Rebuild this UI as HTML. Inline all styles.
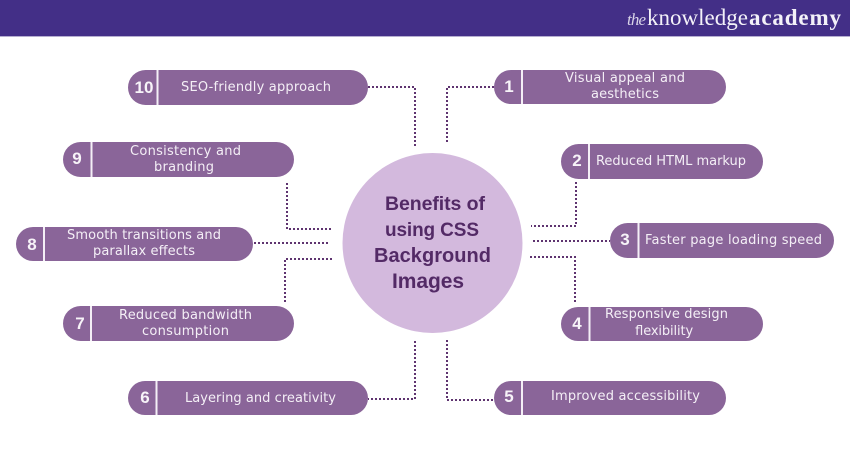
<!DOCTYPE html>
<html>
<head>
<meta charset="utf-8">
<style>
html,body{margin:0;padding:0;background:#fff;width:850px;height:450px;overflow:hidden}
svg{display:block}
.t{font:13px "DejaVu Sans",sans-serif;fill:#f4eff6}
.n{font:bold 17px "Liberation Sans",sans-serif;fill:#f7f3f8;text-anchor:middle}
.c{font-family:"Liberation Sans",sans-serif;font-weight:bold;fill:#532a66}
.p{fill:#8a6599}
.d{stroke:#f4eff6;stroke-width:2}
.l{fill:none;stroke:#5f3470;stroke-width:2;stroke-dasharray:2 2}
</style>
</head>
<body>
<svg width="850" height="450" viewBox="0 0 850 450" xmlns="http://www.w3.org/2000/svg">
<rect width="850" height="450" fill="#fff"/>
<rect width="850" height="36" fill="#432f87"/>
<rect y="36" width="850" height="1" fill="#b5aed0"/>
<text x="627" y="25" textLength="19" font-family="Liberation Serif,serif" font-style="italic" font-size="17" fill="#d9d4e8">the</text>
<text x="647" y="25" textLength="101" font-family="Liberation Serif,serif" font-size="23" fill="#f3f1f8">knowledge</text>
<text x="749" y="25" textLength="92" font-family="Liberation Serif,serif" font-weight="bold" font-size="23" fill="#f3f1f8">academy</text>

<circle cx="432.5" cy="243" r="90" fill="#d3b9dd"/>
<text class="c" font-size="19.500" x="385" y="210" textLength="100">Benefits of</text>
<text class="c" font-size="19" x="385" y="236" textLength="94">using CSS</text>
<text class="c" font-size="20" x="374" y="262" textLength="117">Background</text>
<text class="c" font-size="21" x="392" y="288" textLength="72">Images</text>

<path class="l" d="M447 142V87H494"/>
<path class="l" d="M576 182V226H531"/>
<path class="l" d="M533 241H610"/>
<path class="l" d="M530 257H575V302"/>
<path class="l" d="M447 340V400H494"/>
<path class="l" d="M415 341V399H368"/>
<path class="l" d="M332 259H285V303"/>
<path class="l" d="M254 243H330"/>
<path class="l" d="M287 183V229H332"/>
<path class="l" d="M368 87H415V146"/>

<rect class="p" x="128" y="70" width="240" height="35" rx="17.500"/><path class="d" d="M157.500 70V105"/>
<text class="n" x="144" y="93">10</text>
<text class="t" x="181" y="91" textLength="150">SEO-friendly approach</text>

<rect class="p" x="63" y="142" width="231" height="35" rx="17.500"/><path class="d" d="M91.500 142V177"/>
<text class="n" x="77" y="164">9</text>
<text class="t" x="130" y="155" textLength="111">Consistency and</text>
<text class="t" x="154" y="171" textLength="60">branding</text>

<rect class="p" x="16" y="227" width="237" height="34" rx="17"/><path class="d" d="M44 227V261"/>
<text class="n" x="32" y="250">8</text>
<text class="t" x="67" y="239" textLength="154">Smooth transitions and</text>
<text class="t" x="93" y="255" textLength="102">parallax effects</text>

<rect class="p" x="63" y="306" width="231" height="35" rx="17.500"/><path class="d" d="M91 306V341"/>
<text class="n" x="80" y="329">7</text>
<text class="t" x="119" y="319" textLength="133">Reduced bandwidth</text>
<text class="t" x="142" y="335" textLength="87">consumption</text>

<rect class="p" x="128" y="381" width="240" height="34" rx="17"/><path class="d" d="M156.500 381V415"/>
<text class="n" x="145" y="403">6</text>
<text class="t" x="185" y="402" textLength="151">Layering and creativity</text>

<rect class="p" x="494" y="70" width="232" height="34" rx="17"/><path class="d" d="M522 70V104"/>
<text class="n" x="509" y="92">1</text>
<text class="t" x="565" y="82" textLength="120">Visual appeal and</text>
<text class="t" x="591" y="98" textLength="68">aesthetics</text>

<rect class="p" x="561" y="144" width="202" height="35" rx="17.500"/><path class="d" d="M589 144V179"/>
<text class="n" x="577" y="166">2</text>
<text class="t" x="596" y="165" textLength="150">Reduced HTML markup</text>

<rect class="p" x="610" y="223" width="224" height="35" rx="17.500"/><path class="d" d="M638.500 223V258"/>
<text class="n" x="625" y="245">3</text>
<text class="t" x="645" y="244" textLength="177">Faster page loading speed</text>

<rect class="p" x="561" y="307" width="202" height="34" rx="17"/><path class="d" d="M589.500 307V341"/>
<text class="n" x="577" y="329">4</text>
<text class="t" x="605" y="318" textLength="123">Responsive design</text>
<text class="t" x="635" y="335" textLength="58">flexibility</text>

<rect class="p" x="494" y="381" width="232" height="34" rx="17"/><path class="d" d="M522 381V415"/>
<text class="n" x="509" y="402">5</text>
<text class="t" x="551" y="400" textLength="149">Improved accessibility</text>
</svg>
</body>
</html>
